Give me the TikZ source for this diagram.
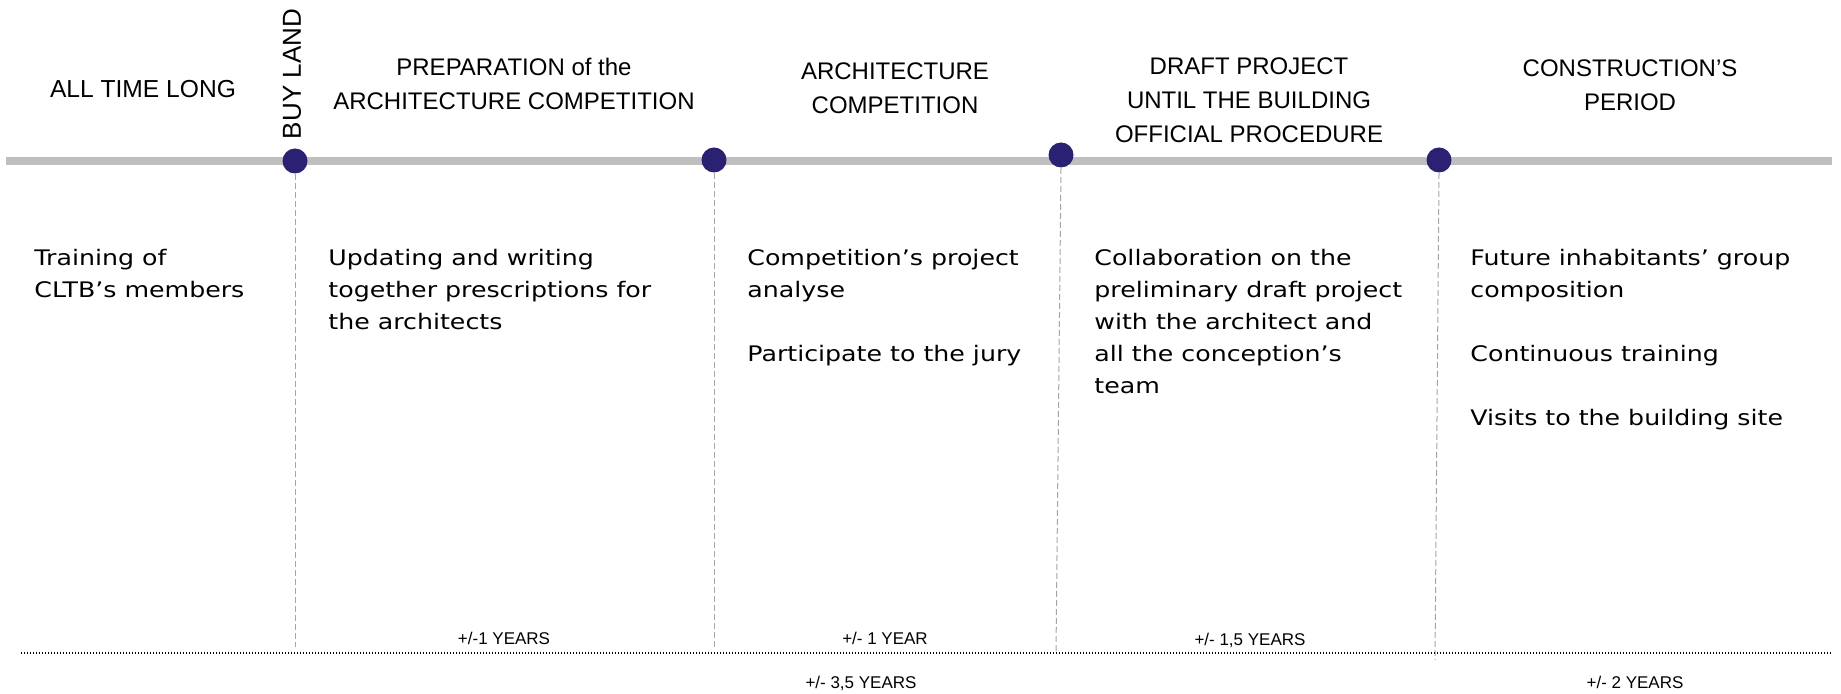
\documentclass[tikz,border=0pt]{standalone}
\usepackage{fontspec}
\setmainfont{Liberation Sans}
\newfontfamily\bodyfont[FakeStretch=1.18]{DejaVu Sans}
\definecolor{dotblue}{RGB}{43,33,115}
\definecolor{linegray}{RGB}{191,191,191}
\definecolor{dashgray}{RGB}{165,165,165}
\begin{document}
\begin{tikzpicture}[x=0.5pt,y=-0.5pt,
  milestone/.style={circle,fill=dotblue,inner sep=0pt,minimum size=12.5pt},
  phase/.style={align=center,font=\fontsize{12}{17}\selectfont,inner sep=0pt},
  task/.style={anchor=north west,align=left,font=\bodyfont\fontsize{10.7}{16}\selectfont,inner sep=0pt},
  span/.style={font=\fontsize{8.5}{10}\selectfont,inner sep=0pt},
  guide/.style={dashgray,line width=0.5pt,dash pattern=on 3pt off 1.5pt}]
\useasboundingbox (0,0) rectangle (1841,694);
% time line
\coordinate (tl-start) at (6,161);
\coordinate (tl-end) at (1832,161);
\draw [linegray,line width=4pt] (tl-start) -- (tl-end);
% milestones
\node[milestone] (buy) at (295,161) {};
\node[milestone] (prep) at (714,160) {};
\node[milestone] (comp) at (1061,155) {};
\node[milestone] (draft) at (1439,160) {};
\coordinate (buy-end) at (295,647);
\coordinate (prep-end) at (714,648);
\coordinate (comp-end) at (1056,652);
\coordinate (draft-end) at (1435,660);
\draw [guide] (buy.south) -- (buy-end);
\draw [guide] (prep.south) -- (prep-end);
\draw [guide] (comp.south) -- (comp-end);
\draw [guide] (draft.south) -- (draft-end);
% duration line
\coordinate (dur-start) at (21,653);
\coordinate (dur-end) at (1832,653);
\draw [line width=0.6pt,dash pattern=on 0.6pt off 0.9pt] (dur-start) -- (dur-end);
% phase titles
\node[phase,font=\fontsize{12.3}{17}\selectfont] (always) at (143,89) {ALL TIME LONG};
\node[phase,rotate=90,font=\fontsize{13}{15}\selectfont] (buyland) at (292,74) {BUY LAND};
\node[phase] (prephead) at (514,84) {PREPARATION of the\\ARCHITECTURE COMPETITION};
\node[phase] (comphead) at (895,88) {ARCHITECTURE\\COMPETITION};
\node[phase] (drafthead) at (1249,100) {DRAFT PROJECT\\UNTIL THE BUILDING\\OFFICIAL PROCEDURE};
\node[phase] (buildhead) at (1630,85) {CONSTRUCTION’S\\PERIOD};
% tasks
\node[task] (alwaystask) at (34,249) {Training of\\CLTB’s members};
\node[task] (preptask) at (328,249) {Updating and writing\\together prescriptions for\\the architects};
\node[task] (comptask) at (747,249) {Competition’s project\\analyse\\[16pt]Participate to the jury};
\node[task] (drafttask) at (1094,249) {Collaboration on the\\preliminary draft project\\with the architect and\\all the conception’s\\team};
\node[task] (buildtask) at (1470,249) {Future inhabitants’ group\\composition\\[16pt]Continuous training\\[16pt]Visits to the building site};
% durations
\node[span] (prepspan) at (504,638) {+/-1 YEARS};
\node[span] (compspan) at (885,638) {+/- 1 YEAR};
\node[span] (draftspan) at (1250,640) {+/- 1,5 YEARS};
\node[span] (allspan) at (861,683) {+/- 3,5 YEARS};
\node[span] (buildspan) at (1635,682) {+/- 2 YEARS};
\end{tikzpicture}
\end{document}
